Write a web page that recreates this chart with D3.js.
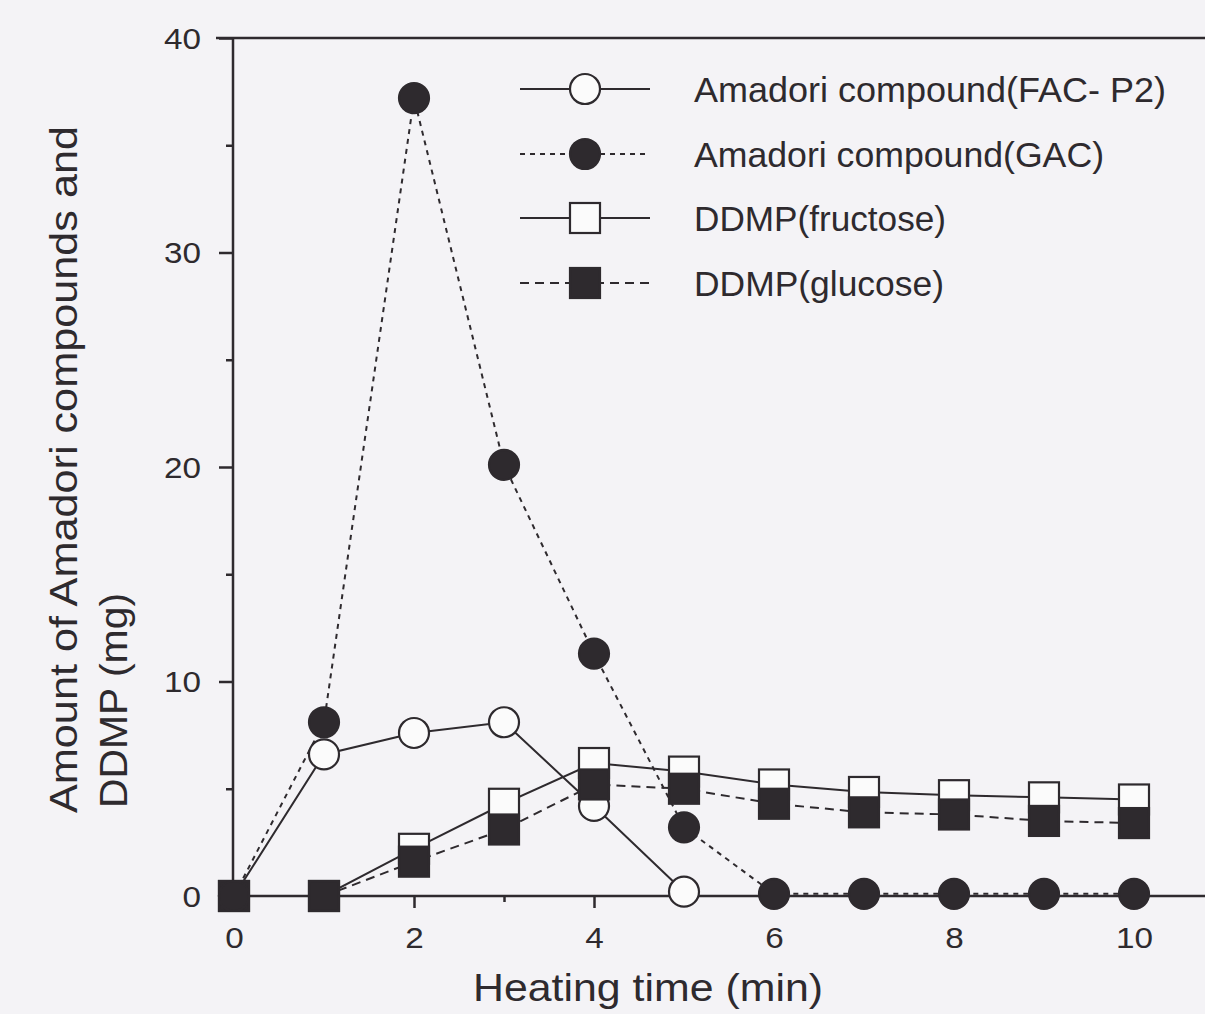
<!DOCTYPE html>
<html><head><meta charset="utf-8">
<script src="https://cdn.jsdelivr.net/npm/d3@7"></script>
<style>html,body{margin:0;padding:0;background:#f4f3f6;}svg{display:block;}</style>
</head><body>
<svg id="c" width="1205" height="1014"></svg>
<script>
const times = [0,1,2,3,4,5,6,7,8,9,10];
const facTimes = [0,1,2,3,4,5];
const facP2 = [0,6.6,7.6,8.1,4.2,0.2];
const gac = [0,8.1,37.2,20.1,11.3,3.2,0.1,0.1,0.1,0.1,0.1];
const ddmpFructose = [0,0,2.2,4.3,6.2,5.8,5.2,4.85,4.7,4.6,4.5];
const ddmpGlucose = [0,0,1.6,3.1,5.2,5.0,4.3,3.9,3.8,3.5,3.4];
const xTicks = [0,2,4,6,8,10];
const xMinor = [1,3,5,7,9];
const yTicks = [0,10,20,30,40];
const yMinor = [5,15,25,35];
const legendLabels = ["Amadori compound(FAC- P2)","Amadori compound(GAC)","DDMP(fructose)","DDMP(glucose)"];

const ink = "#2e2a2e";
const font = "'Liberation Sans', Arial, sans-serif";
const svg = d3.select("#c");
svg.append("rect").attr("width",1205).attr("height",1014).attr("fill","#f4f3f6");

const x = d3.scaleLinear().domain([0,11]).range([234,1224]);
const y = d3.scaleLinear().domain([0,40]).range([896,38]);

// y axis
const gy = svg.append("g").attr("transform","translate(233,0)");
gy.call(d3.axisLeft(y).tickValues(yTicks).tickSize(14).tickPadding(18).tickFormat(d3.format("d")));
gy.append("g").call(d3.axisLeft(y).tickValues(yMinor).tickSize(7).tickFormat(""));
gy.selectAll(".domain").remove();
gy.append("line").attr("x1",0).attr("x2",0).attr("y1",y(0)).attr("y2",y(40)).attr("stroke",ink).attr("stroke-width",2.5);
gy.selectAll("line").attr("stroke",ink).attr("stroke-width",2.5);
gy.selectAll("text").attr("font-family",font).attr("font-size",29).attr("fill",ink).attr("dy","0.36em")
  .attr("textLength",d=>String(d).length*18.5).attr("lengthAdjust","spacingAndGlyphs");

// top frame line
svg.append("line").attr("x1",216).attr("x2",1205).attr("y1",y(40)).attr("y2",y(40)).attr("stroke",ink).attr("stroke-width",2.5);

// x axis
const gx = svg.append("g").attr("transform",`translate(0,${y(0)})`);
gx.call(d3.axisBottom(x).tickValues(xTicks).tickSize(12).tickPadding(19).tickFormat(d3.format("d")));
gx.append("g").call(d3.axisBottom(x).tickValues(xMinor).tickSize(6).tickFormat(""));
gx.selectAll(".domain").remove();
gx.append("line").attr("x1",233).attr("x2",1205).attr("stroke",ink).attr("stroke-width",2.5);
gx.selectAll("line").attr("stroke",ink).attr("stroke-width",2.5);
gx.selectAll("text").attr("font-family",font).attr("font-size",29).attr("fill",ink)
  .attr("textLength",d=>d===""?null:String(d).length*18.5).attr("lengthAdjust","spacingAndGlyphs");

// titles
svg.append("text").attr("x",473).attr("y",1001)
  .attr("font-family",font).attr("font-size",39).attr("fill",ink)
  .attr("textLength",350).attr("lengthAdjust","spacingAndGlyphs").text("Heating time (min)");
svg.append("text").attr("transform","translate(77,813) rotate(-90)")
  .attr("font-family",font).attr("font-size",38).attr("fill",ink)
  .attr("textLength",687).attr("lengthAdjust","spacingAndGlyphs").text("Amount of Amadori compounds and");
svg.append("text").attr("transform","translate(127,808) rotate(-90)")
  .attr("font-family",font).attr("font-size",38).attr("fill",ink)
  .attr("textLength",215).attr("lengthAdjust","spacingAndGlyphs").text("DDMP (mg)");

const series = [
  {t:facTimes, vals:facP2, shape:"circle", fill:"#fbfbfb", dash:null},
  {t:times, vals:ddmpFructose, shape:"square", fill:"#fbfbfb", dash:null},
  {t:times, vals:ddmpGlucose, shape:"square", fill:ink, dash:"9,6"},
  {t:times, vals:gac, shape:"circle", fill:ink, dash:"5,5"}
];
series.forEach(s=>{
  const line = d3.line().x((d,i)=>x(s.t[i])).y(d=>y(d));
  svg.append("path").datum(s.vals).attr("d",line).attr("fill","none")
    .attr("stroke",ink).attr("stroke-width",2).attr("stroke-dasharray",s.dash);
});
function marker(g, shape, fill, cx, cy){
  if(shape==="circle"){
    g.append("circle").attr("cx",cx).attr("cy",cy).attr("r",15).attr("fill",fill).attr("stroke",ink).attr("stroke-width",2.2);
  } else {
    g.append("rect").attr("x",cx-15).attr("y",cy-15).attr("width",30).attr("height",30).attr("fill",fill).attr("stroke",ink).attr("stroke-width",2.2);
  }
}
series.forEach(s=>{
  const g = svg.append("g");
  s.vals.forEach((v,i)=>marker(g,s.shape,s.fill,x(s.t[i]),y(v)));
});

// legend
const leg = [
  {shape:"circle", fill:"#fbfbfb", dash:null},
  {shape:"circle", fill:ink, dash:"5,5"},
  {shape:"square", fill:"#fbfbfb", dash:null},
  {shape:"square", fill:ink, dash:"9,6"}
];
const legY = [89,154,218,283];
const legLen = [472,410,252,250];
leg.forEach((l,i)=>{
  const g = svg.append("g");
  g.append("line").attr("x1",520).attr("x2",650).attr("y1",legY[i]).attr("y2",legY[i])
    .attr("stroke",ink).attr("stroke-width",2).attr("stroke-dasharray",l.dash);
  marker(g,l.shape,l.fill,585,legY[i]);
  g.append("text").attr("x",694).attr("y",legY[i]).attr("dy","0.36em")
    .attr("font-family",font).attr("font-size",35).attr("fill",ink)
    .attr("textLength",legLen[i]).attr("lengthAdjust","spacingAndGlyphs").text(legendLabels[i]);
});
</script>
</body></html>
